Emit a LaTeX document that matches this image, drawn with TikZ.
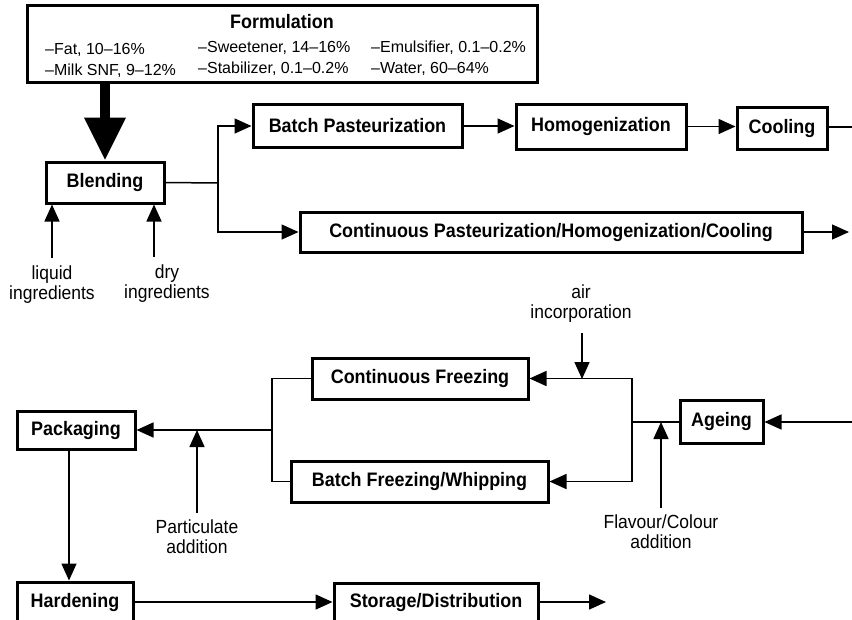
\documentclass[tikz,border=0pt]{standalone}
\usepackage{fontspec}
\setmainfont{Liberation Sans}
\newfontfamily\condfont[FakeStretch=0.92]{Liberation Sans}
\usetikzlibrary{arrows.meta}
\tikzset{
  box/.style={draw, line width=3pt, inner sep=0pt, font=\condfont\fontsize{19.5}{22}\selectfont\bfseries},
  lbl/.style={inner sep=0pt, align=center, font=\condfont\fontsize{19}{20}\selectfont},
  itm/.style={inner sep=0pt, anchor=west, align=left, font=\fontsize{16}{21}\selectfont},
  conn/.style={line width=1.5pt},
  arr/.style={line width=1.5pt, -{Triangle[length=17pt 0 0,width=15pt 0 0]}},
  bigarr/.style={line width=10pt, -{Triangle[length=43pt 0 0,width=39pt 0 0]}}
}
\begin{document}
\begin{tikzpicture}[x=1pt,y=-1pt]
\useasboundingbox (0,0) rectangle (852,619);
% Formulation
\node[box, minimum width=510pt, minimum height=77pt] (form) at (282,43.5) {};
\node[inner sep=0pt, font=\condfont\fontsize{19.5}{22}\selectfont\bfseries] (ftitle) at (282,22) {Formulation};
\node[itm] (c1) at (45,60.5) {--Fat, 10--16\%\\--Milk SNF, 9--12\%};
\node[itm] (c2) at (198,58.5) {--Sweetener, 14--16\%\\--Stabilizer, 0.1--0.2\%};
\node[itm] (c3) at (371,58.5) {--Emulsifier, 0.1--0.2\%\\--Water, 60--64\%};
% upper row
\node[box, minimum width=118pt, minimum height=41pt] (blend) at (105,182.5) {Blending};
\node[box, minimum width=209pt, minimum height=43pt] (bp) at (357.5,126) {Batch Pasteurization};
\node[box, minimum width=170pt, minimum height=45pt] (hom) at (601,126.5) {Homogenization};
\node[box, minimum width=90pt, minimum height=42pt] (cool) at (782,128) {Cooling};
\node[box, minimum width=502pt, minimum height=40pt] (cph) at (551,232) {Continuous Pasteurization/Homogenization/Cooling};
\node[lbl] (liq) at (52,285) {liquid\\ingredients};
\node[lbl] (dry) at (167,284) {dry\\ingredients};
% lower section
\node[lbl] (air) at (581,304) {air\\incorporation};
\node[box, minimum width=216pt, minimum height=41pt] (cf) at (420,378.5) {Continuous Freezing};
\node[box, minimum width=257pt, minimum height=41pt] (bf) at (419.5,481.5) {Batch Freezing/Whipping};
\node[box, minimum width=83pt, minimum height=43pt] (age) at (721.5,421.5) {Ageing};
\node[box, minimum width=118pt, minimum height=38pt] (pack) at (76,430) {Packaging};
\node[lbl] (part) at (197,537) {Particulate\\addition};
\node[lbl] (flav) at (661,532) {Flavour/Colour\\addition};
\node[box, minimum width=116pt, minimum height=40pt] (hard) at (75,602) {Hardening};
\node[box, minimum width=204pt, minimum height=38pt] (stor) at (436,602) {Storage/Distribution};
% coordinates
\coordinate (s1) at (218,183);
\coordinate (coolout) at (852,127);
\coordinate (cphout) at (849,232);
\coordinate (agein) at (852,422);
\coordinate (s2) at (632,422);
\coordinate (s3) at (272,430);
\coordinate (airtop) at (582,333);
\coordinate (airj) at (582,379);
\coordinate (drys) at (154,257);
\coordinate (liqs) at (52,258);
\coordinate (parts) at (197,513);
\coordinate (partj) at (197,430);
\coordinate (flavs) at (661,508);
\coordinate (flavj) at (661,422);
\coordinate (pd) at (69,449);
\coordinate (storout) at (606,602);
% connectors
\draw[bigarr] (form.south -| blend.north) -- (blend.north);
\draw[arr] (liqs) -- (liqs |- blend.south);
\draw[arr] (drys) -- (drys |- blend.south);
\draw[conn] (blend.east) -- (s1);
\draw[arr] (s1) |- (bp.west);
\draw[arr] (s1) |- (cph.west);
\draw[arr] (bp.east) -- (bp.east -| hom.west);
\draw[arr] (hom.east) -- (hom.east -| cool.west);
\draw[conn] (coolout -| cool.east) -- (coolout);
\draw[arr] (cph.east) -- (cphout);
\draw[arr] (agein) -- (agein -| age.east);
\draw[conn] (s2 -| age.west) -- (s2);
\draw[arr] (s2) |- (cf.east);
\draw[arr] (s2) |- (bf.east);
\draw[arr] (airtop) -- (airj);
\draw[arr] (flavs) -- (flavj);
\draw[conn] (cf.west) -| (s3);
\draw[conn] (bf.west) -| (s3);
\draw[arr] (s3) -- (pack.east);
\draw[arr] (parts) -- (partj);
\draw[arr] (pd) -- (pd |- hard.north);
\draw[arr] (hard.east) -- (hard.east -| stor.west);
\draw[arr] (stor.east) -- (storout);
\end{tikzpicture}
\end{document}
